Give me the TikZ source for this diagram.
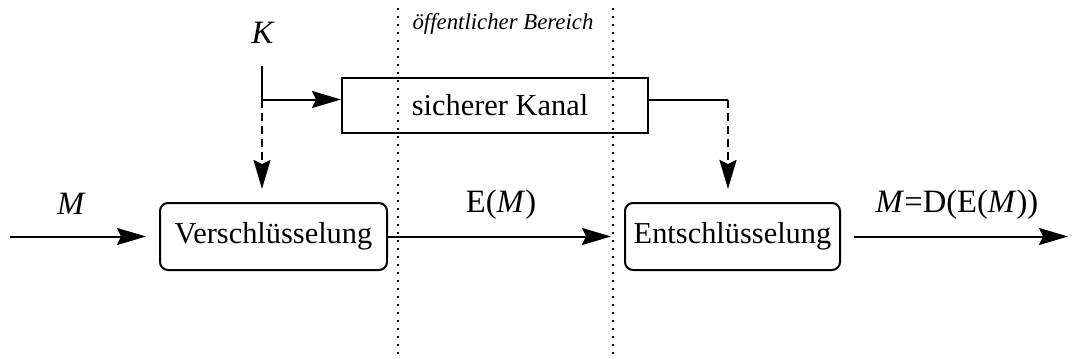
\documentclass[tikz,border=0pt]{standalone}
\usepackage{fontspec}
\setmainfont{Liberation Serif}
\usetikzlibrary{arrows.meta}
\begin{document}
\begin{tikzpicture}[x=0.5pt,y=-0.5pt,
  line width=1pt,
  every node/.style={inner sep=0pt},
  tip/.style={-{Stealth[length=14.5pt,width=8.5pt,inset=2pt]}},
  procbox/.style={draw,rounded corners=4pt,minimum width=113.5pt,minimum height=33.5pt,
                  font=\fontsize{15.2}{18}\selectfont},
  plainbox/.style={draw,minimum width=153pt,minimum height=27.5pt},
  lbl/.style={font=\fontsize{16.3}{19}\selectfont},
  region/.style={line width=1pt,dash pattern=on 1pt off 3pt},
  keyline/.style={dash pattern=on 4pt off 2.5pt}
]
\useasboundingbox (0,0) rectangle (1072,359);

% public area boundaries
\coordinate (pt1) at (397.5,8);
\coordinate (pb1) at (397.5,359);
\coordinate (pt2) at (613,8);
\coordinate (pb2) at (613,359);
\draw[region] (pt1) -- (pb1);
\draw[region] (pt2) -- (pb2);
\node[font=\fontsize{11.4}{13}\selectfont\itshape] (area) at (503,24) {öffentlicher Bereich};

% processing boxes
\node[procbox] (enc) at (273.5,236.5) {Verschlüsselung};
\node[procbox,minimum width=107.5pt] (dec) at (732.5,236.5) {Entschlüsselung};
\node[plainbox] (kanal) at (495,105.5) {};
\node[procbox,draw=none] (kanaltxt) at (500,105) {sicherer Kanal};

% key distribution
\node[lbl,font=\fontsize{16.3}{19}\selectfont\itshape] (key) at (262.5,33) {K};
\coordinate (k0) at (262,66);
\coordinate (k1) at (262,99.5);
\coordinate (k2) at (648,99.5);
\coordinate (k3) at (728,99.5);
\draw (k0) -- (k1);
\draw[tip] (k1) -- (kanal.west |- k1);
\draw[tip,keyline,shorten >=6.5pt] (k1) -- (k1 |- enc.north);
\draw (kanal.east |- k2) -- (k3);
\draw[tip,keyline,shorten >=6.5pt] (k3) -- (k3 |- dec.north);

% message flow
\coordinate (in) at (10,236.5);
\coordinate (out) at (1068,236.5);
\draw[tip,shorten >=6.5pt] (in) -- (enc.west);
\draw[tip,shorten >=6.5pt] (enc.east) -- (dec.west);
\draw[tip,shorten <=6.5pt] (dec.east) -- (out);
\node[lbl] (m) at (71.5,204) {\textit{M}};
\node[lbl] (em) at (501,205) {E(\textit{M})};
\node[lbl] (dem) at (957,205) {\textit{M}=D(E(\textit{M}))};
\end{tikzpicture}
\end{document}
